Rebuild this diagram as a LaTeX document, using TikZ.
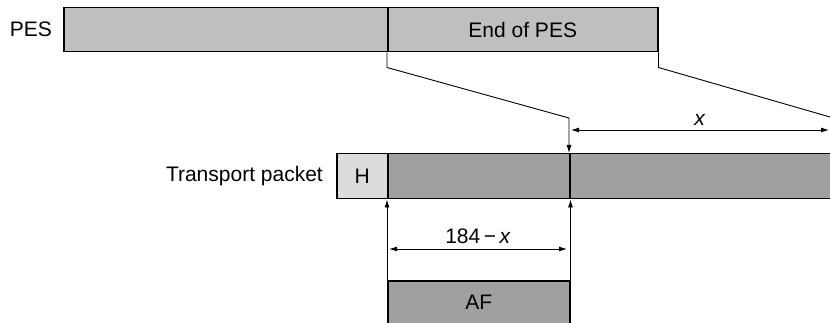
\documentclass[tikz,border=0pt]{standalone}
\usepackage{fontspec}
\setmainfont{Liberation Sans}
\usetikzlibrary{positioning,arrows.meta}
\definecolor{pesgray}{HTML}{BEBFC1}
\definecolor{tsgray}{HTML}{A0A0A3}
\definecolor{hdrgray}{HTML}{DCDCDD}

\tikzset{
  seg/.style={draw,line width=1.5pt,inner sep=0pt,anchor=north west,minimum height=44pt},
  lbl/.style={inner sep=0pt},
  lead/.style={line width=0.9pt},
  tip/.style={line width=0.9pt,-{Latex[length=8pt,width=5pt]}},
  dim/.style={line width=0.9pt,{Latex[length=8pt,width=5pt]}-{Latex[length=8pt,width=5pt]}},
}

\begin{document}
\begin{tikzpicture}[x=1pt,y=-1pt,font=\fontsize{21}{24}\selectfont]
    \useasboundingbox (0,0) rectangle (830,323);
    % PES
    \node[seg,fill=pesgray,minimum width=324pt] (pes) at (63,7) {};
    \node[seg,fill=pesgray,minimum width=270pt] (pesend) at (387,7) {End of PES};
    \node[lbl,left=11pt of pes] (peslbl) {PES};
    % transport packet
    \node[seg,fill=hdrgray,minimum width=51pt,minimum height=45pt] (hdr) at (336,153) {H};
    \node[seg,fill=tsgray,minimum width=182pt,minimum height=45pt] (pay) at (387,153) {};
    \node[seg,fill=tsgray,minimum width=280pt,minimum height=45pt] (rest) at (569,153) {};
    \node[lbl,left=13pt of hdr] (tplbl) {Transport packet};
    % adaptation field
    \node[seg,fill=tsgray,minimum width=182pt] (af) at (387,280) {AF};

    \coordinate (bendL) at (569,118);
    \coordinate (bendR) at (830,117);
    \coordinate (xl) at (571,130);
    \coordinate (xr) at (829,130);
    \coordinate (dl) at (389,249);
    \coordinate (dr) at (567,249);

    \draw[tip] (pesend.south west) -- ++(0,15) -- (bendL) -- (rest.north west);
    \draw[lead] (pesend.south east) -- ++(0,15) -- (bendR);
    \draw[dim] (xl) -- (xr) node[midway,above=4pt,lbl] (xlbl) {\textit{x}};

    \draw[tip] (af.north west) -- (pay.south west);
    \draw[tip] (af.north east) -- (pay.south east);
    \draw[dim] (dl) -- (dr) node[midway,above=5pt,lbl] (dlbl) {184\,−\,\textit{x}};
\end{tikzpicture}
\end{document}
